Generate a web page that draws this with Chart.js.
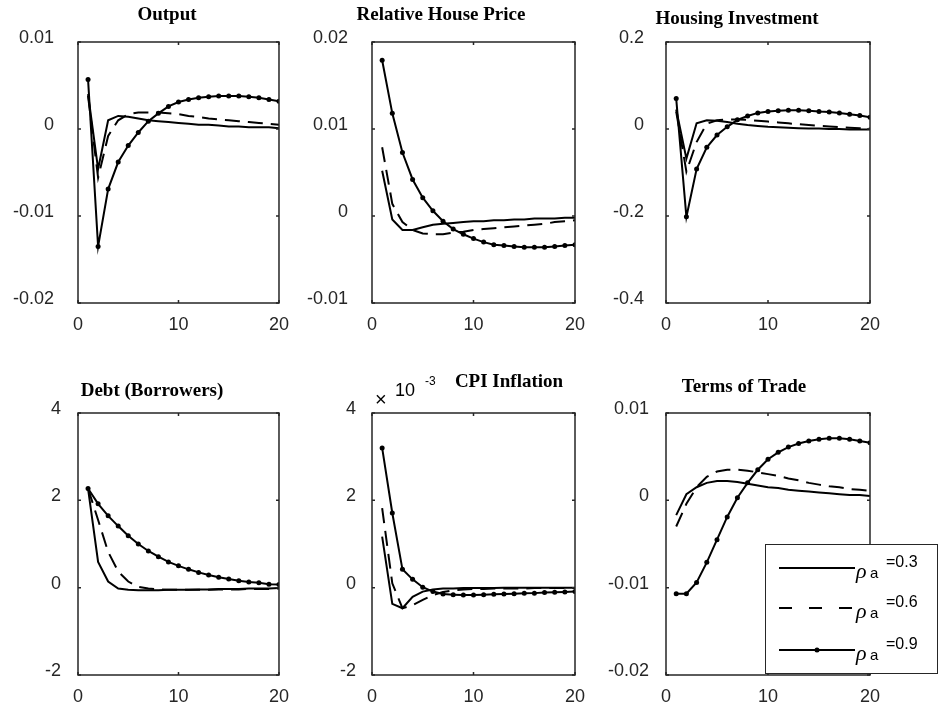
<!DOCTYPE html>
<html>
<head>
<meta charset="utf-8">
<script src="https://cdn.jsdelivr.net/npm/chart.js@4.4.1/dist/chart.umd.min.js"></script>
<style>
  body { margin: 0; background: #fff; }
  #fig { position: relative; width: 938px; height: 711px; overflow: hidden; background: #fff; }
  #fig canvas { position: absolute; }
</style>
</head>
<body>
<div id="fig"></div>
<script>
// ---- data ----
const periods = [1, 2, 3, 4, 5, 6, 7, 8, 9, 10, 11, 12, 13, 14, 15, 16, 17, 18, 19, 20];
const rhoLabels = ["0.3", "0.6", "0.9"];
const panelTitles = ["Output", "Relative House Price", "Housing Investment",
                     "Debt (Borrowers)", "CPI Inflation", "Terms of Trade"];
const xTicks = [0, 10, 20];

// Output
const outputRho3 = [0.0040, -0.0046, 0.0010, 0.0015, 0.0014, 0.0012, 0.0010, 0.0009, 0.0008, 0.0007, 0.0006, 0.0005, 0.0005, 0.0004, 0.0003, 0.0003, 0.0002, 0.0002, 0.0002, 0.0001];
const outputRho6 = [0.0038, -0.0056, -0.0008, 0.0010, 0.0017, 0.0019, 0.0019, 0.0019, 0.0018, 0.0017, 0.0015, 0.0014, 0.0012, 0.0011, 0.0010, 0.0009, 0.0008, 0.0007, 0.0006, 0.0005];
const outputRho9 = [0.0057, -0.0135, -0.0069, -0.0038, -0.0019, -0.0004, 0.0009, 0.0018, 0.0026, 0.0031, 0.0034, 0.0036, 0.0037, 0.0038, 0.0038, 0.0038, 0.0037, 0.0036, 0.0034, 0.0032];
const outputTicks = [-0.02, -0.01, 0, 0.01];

// Relative house price
const houseRho3 = [0.0052, -0.0004, -0.0016, -0.0016, -0.0013, -0.0010, -0.0009, -0.0008, -0.0007, -0.0006, -0.0006, -0.0005, -0.0005, -0.0004, -0.0004, -0.0003, -0.0003, -0.0003, -0.0002, -0.0002];
const houseRho6 = [0.0079, 0.0014, -0.0007, -0.0016, -0.0020, -0.0021, -0.0021, -0.0019, -0.0018, -0.0016, -0.0015, -0.0014, -0.0013, -0.0012, -0.0011, -0.0010, -0.0009, -0.0007, -0.0006, -0.0005];
const houseRho9 = [0.0179, 0.0118, 0.0073, 0.0042, 0.0021, 0.0006, -0.0006, -0.0015, -0.0021, -0.0026, -0.0030, -0.0033, -0.0034, -0.0035, -0.0036, -0.0036, -0.0036, -0.0035, -0.0034, -0.0033];
const houseTicks = [-0.01, 0, 0.01, 0.02];

// Housing investment
const invRho3 = [0.045, -0.068, 0.013, 0.020, 0.019, 0.016, 0.012, 0.009, 0.007, 0.005, 0.004, 0.003, 0.002, 0.001, 0.001, 0.000, 0.000, -0.001, -0.001, -0.001];
const invRho6 = [0.040, -0.098, -0.030, 0.012, 0.020, 0.022, 0.022, 0.021, 0.019, 0.017, 0.015, 0.013, 0.011, 0.009, 0.007, 0.006, 0.004, 0.003, 0.002, 0.001];
const invRho9 = [0.070, -0.202, -0.092, -0.042, -0.014, 0.005, 0.021, 0.030, 0.037, 0.040, 0.042, 0.043, 0.043, 0.042, 0.040, 0.039, 0.037, 0.034, 0.031, 0.027];
const invTicks = [-0.4, -0.2, 0, 0.2];

// Debt (borrowers)
const debtRho3 = [2.27, 0.59, 0.14, -0.02, -0.05, -0.06, -0.06, -0.06, -0.05, -0.05, -0.05, -0.04, -0.04, -0.03, -0.03, -0.03, -0.02, -0.02, -0.02, -0.01];
const debtRho6 = [2.27, 1.55, 0.82, 0.37, 0.14, 0.02, -0.02, -0.04, -0.05, -0.05, -0.05, -0.05, -0.05, -0.04, -0.04, -0.04, -0.03, -0.03, -0.03, -0.02];
const debtRho9 = [2.27, 1.92, 1.645, 1.41, 1.19, 1.00, 0.84, 0.71, 0.59, 0.50, 0.42, 0.35, 0.29, 0.24, 0.20, 0.16, 0.13, 0.11, 0.08, 0.07];
const debtTicks = [-2, 0, 2, 4];

// CPI inflation (x 10^-3)
const cpiRho3 = [1.17, -0.37, -0.47, -0.21, -0.09, -0.04, -0.02, -0.02, -0.01, -0.01, -0.01, -0.01, 0, 0, 0, 0, 0, 0, 0, 0];
const cpiRho6 = [1.82, 0.10, -0.47, -0.40, -0.28, -0.17, -0.10, -0.06, -0.04, -0.03, -0.03, -0.02, -0.02, -0.02, -0.02, -0.01, -0.01, -0.01, -0.01, -0.01];
const cpiRho9 = [3.20, 1.71, 0.42, 0.19, 0.01, -0.09, -0.145, -0.16, -0.17, -0.17, -0.16, -0.15, -0.145, -0.14, -0.13, -0.125, -0.11, -0.105, -0.10, -0.09];
const cpiTicks = [-2, 0, 2, 4];

// Terms of trade
const totRho3 = [-0.0017, 0.0007, 0.0015, 0.0020, 0.0022, 0.0022, 0.0021, 0.0019, 0.0017, 0.0015, 0.0014, 0.0012, 0.0011, 0.0010, 0.0009, 0.0008, 0.0007, 0.0006, 0.0006, 0.0005];
const totRho6 = [-0.0030, -0.0004, 0.0015, 0.0027, 0.0033, 0.0035, 0.0035, 0.0034, 0.0032, 0.0030, 0.0028, 0.0025, 0.0023, 0.0020, 0.0018, 0.0016, 0.0015, 0.0013, 0.0012, 0.0011];
const totRho9 = [-0.0107, -0.0107, -0.0094, -0.0071, -0.0045, -0.0019, 0.0003, 0.0020, 0.0035, 0.0047, 0.0055, 0.0061, 0.0065, 0.0068, 0.0070, 0.0071, 0.0071, 0.0070, 0.0068, 0.0066];
const totTicks = [-0.02, -0.01, 0, 0.01];

// ---- look ----
const AXIS_COLOR = "#262626";
const TICK_LEN = 3;
const TICK_FONT = { family: "'Liberation Sans', Arial, sans-serif", size: 18 };
const TITLE_FONT = "bold 19px 'Liberation Serif', 'Times New Roman', serif";
const SANS = "'Liberation Sans', Arial, sans-serif";

// canvas placement per column / row (px); axisW = y-axis box width = left edge of plot box
const cols = [
    { left: 0,   width: 300, axisW: 78, padR: 20 },
    { left: 300, width: 300, axisW: 72, padR: 25 },
    { left: 600, width: 338, axisW: 66, padR: 68 },
];
const rows = [
    { top: 0,   height: 340, padT: 42, padB: 7 },
    { top: 360, height: 351, padT: 53, padB: 6 },
];

const panels = [
    { series: [outputRho3, outputRho6, outputRho9], ticks: outputTicks, titleX: 167, titleY: 20, gap: 24 },
    { series: [houseRho3, houseRho6, houseRho9],    ticks: houseTicks,  titleX: 141, titleY: 20, gap: 24 },
    { series: [invRho3, invRho6, invRho9],          ticks: invTicks,    titleX: 137, titleY: 24, gap: 22 },
    { series: [debtRho3, debtRho6, debtRho9],       ticks: debtTicks,   titleX: 152, titleY: 36, gap: 17 },
    { series: [cpiRho3, cpiRho6, cpiRho9],          ticks: cpiTicks,    titleX: 209, titleY: 27, gap: 16, exponent: true },
    { series: [totRho3, totRho6, totRho9],          ticks: totTicks,    titleX: 144, titleY: 32, gap: 17, legend: true },
];

function fmt(v) {
    return String(+v.toFixed(6));
}

// box with inward ticks on all four sides, like the original figure
const axesBox = {
    id: "axesBox",
    afterDatasetsDraw(chart) {
        const { ctx, chartArea: a, scales } = chart;
        ctx.save();
        ctx.strokeStyle = AXIS_COLOR;
        ctx.lineWidth = 1.5;
        ctx.setLineDash([]);
        ctx.strokeRect(a.left, a.top, a.right - a.left, a.bottom - a.top);
        ctx.beginPath();
        scales.x.ticks.forEach(t => {
            const px = scales.x.getPixelForValue(t.value);
            ctx.moveTo(px, a.bottom); ctx.lineTo(px, a.bottom - TICK_LEN);
            ctx.moveTo(px, a.top); ctx.lineTo(px, a.top + TICK_LEN);
        });
        scales.y.ticks.forEach(t => {
            const py = scales.y.getPixelForValue(t.value);
            ctx.moveTo(a.left, py); ctx.lineTo(a.left + TICK_LEN, py);
            ctx.moveTo(a.right, py); ctx.lineTo(a.right - TICK_LEN, py);
        });
        ctx.stroke();
        ctx.restore();
    }
};

function drawLegend(ctx) {
    const L = 165, T = 184, R = 337, B = 313;
    ctx.save();
    ctx.fillStyle = "#fff";
    ctx.fillRect(L, T, R - L, B - T);
    ctx.strokeStyle = AXIS_COLOR;
    ctx.lineWidth = 1;
    ctx.strokeRect(L + 0.5, T + 0.5, R - L, B - T);
    const ys = [208, 248, 290];
    rhoLabels.forEach((lab, i) => {
        const y = ys[i];
        ctx.strokeStyle = "#000";
        ctx.lineWidth = 2;
        ctx.setLineDash(i === 1 ? [13, 17] : []);
        ctx.beginPath();
        ctx.moveTo(179, y); ctx.lineTo(255, y);
        ctx.stroke();
        ctx.setLineDash([]);
        if (i === 2) {
            ctx.fillStyle = "#000";
            ctx.beginPath();
            ctx.arc(217, y, 2.5, 0, Math.PI * 2);
            ctx.fill();
        }
        ctx.fillStyle = "#000";
        ctx.textAlign = "left";
        ctx.textBaseline = "alphabetic";
        ctx.font = "italic 22px 'Liberation Serif', 'Times New Roman', serif";
        ctx.fillText("\u03C1", 256, y + 9.5);
        ctx.font = "15px " + SANS;
        ctx.fillText("a", 270, y + 10);
        ctx.font = "16px " + SANS;
        ctx.fillText("=" + lab, 286, y - 1.5);
    });
    ctx.restore();
}

function makePanel(p, idx) {
    const col = cols[idx % 3];
    const row = rows[Math.floor(idx / 3)];
    const canvas = document.createElement("canvas");
    canvas.width = col.width;
    canvas.height = row.height;
    canvas.style.left = col.left + "px";
    canvas.style.top = row.top + "px";
    canvas.style.width = col.width + "px";
    canvas.style.height = row.height + "px";
    document.getElementById("fig").appendChild(canvas);

    const styles = [
        { borderDash: [], pointRadius: 0 },
        { borderDash: [15, 8], pointRadius: 0 },
        { borderDash: [], pointRadius: 2.5 },
    ];

    const panelText = {
        id: "panelText",
        afterDraw(chart) {
            const ctx = chart.ctx;
            ctx.save();
            ctx.fillStyle = "#000";
            ctx.textBaseline = "alphabetic";
            ctx.textAlign = "center";
            ctx.font = TITLE_FONT;
            ctx.fillText(panelTitles[idx], p.titleX, p.titleY);
            if (p.exponent) {
                ctx.textAlign = "left";
                ctx.font = "20px " + SANS;
                ctx.fillText("\u00D7", 75, 46);
                ctx.font = "18px " + SANS;
                ctx.fillText("10", 95, 36);
                ctx.font = "12px " + SANS;
                ctx.fillText("-3", 125, 25);
            }
            if (p.legend) drawLegend(ctx);
            ctx.restore();
        }
    };

    return new Chart(canvas, {
        type: "line",
        data: {
            datasets: p.series.map((vals, i) => ({
                label: "\u03C1a=" + rhoLabels[i],
                data: periods.map((t, k) => ({ x: t, y: vals[k] })),
                borderColor: "#000",
                backgroundColor: "#000",
                pointBackgroundColor: "#000",
                pointBorderWidth: 0,
                borderWidth: 2,
                tension: 0,
                fill: false,
                ...styles[i],
            }))
        },
        options: {
            responsive: false,
            animation: false,
            devicePixelRatio: 1,
            layout: { padding: { left: 0, right: col.padR, top: row.padT, bottom: row.padB } },
            plugins: { legend: { display: false }, tooltip: { enabled: false }, title: { display: false } },
            scales: {
                x: {
                    type: "linear",
                    min: 0, max: 20,
                    grid: { display: false, drawTicks: false },
                    border: { display: false },
                    ticks: { font: TICK_FONT, color: AXIS_COLOR, padding: 11, maxRotation: 0, callback: fmt },
                    afterBuildTicks: s => { s.ticks = xTicks.map(v => ({ value: v })); },
                    afterFit: s => { s.height = 30; },
                },
                y: {
                    type: "linear",
                    min: p.ticks[0], max: p.ticks[p.ticks.length - 1],
                    grid: { display: false, drawTicks: false },
                    border: { display: false },
                    ticks: { font: TICK_FONT, color: AXIS_COLOR, padding: p.gap, labelOffset: -4, callback: fmt },
                    afterBuildTicks: s => { s.ticks = p.ticks.map(v => ({ value: v })); },
                    afterFit: s => { s.width = col.axisW; },
                },
            },
        },
        plugins: [axesBox, panelText],
    });
}

panels.forEach(makePanel);
</script>
</body>
</html>
